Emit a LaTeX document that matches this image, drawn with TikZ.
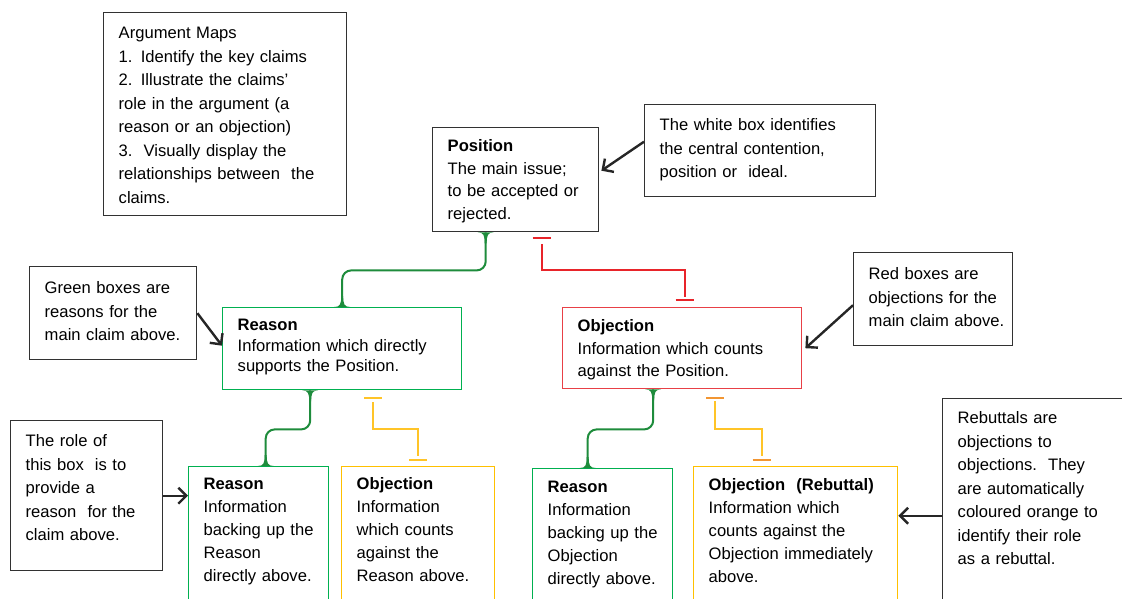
\documentclass[tikz,border=0pt]{standalone}
\usepackage{fontspec}
\setmainfont{Liberation Sans}
\usetikzlibrary{arrows.meta}

\definecolor{notegray}{RGB}{50,50,50}
\definecolor{boxgreen}{RGB}{0,176,80}
\definecolor{linkgreen}{RGB}{30,140,60}
\definecolor{boxred}{RGB}{232,64,70}
\definecolor{linkred}{RGB}{232,36,42}
\definecolor{boxyellow}{RGB}{255,192,0}
\definecolor{linkyellow}{RGB}{255,196,40}
\definecolor{barorange}{RGB}{242,150,50}

\tikzset{flare/.pic={\fill[linkgreen] (-8,0) .. controls (-2,0) and (-1,-3) .. (-1,-11)
                                      -- (1,-11) .. controls (1,-3) and (2,0) .. (8,0) -- cycle;},
         tbar/.pic={\draw[line width=2pt] (-9,0) -- (9,0);}}

\begin{document}
\begin{tikzpicture}[
    x=1pt, y=-1pt,
    font=\fontsize{16.6}{23.5}\selectfont,
    box/.style={rectangle, anchor=north west, align=left, inner xsep=15pt,
      inner ysep=0pt, line width=1.4pt},
    note/.style={box, draw=notegray},
    pro/.style={box, draw=boxgreen},
    con/.style={box, draw=boxred},
    rebut/.style={box, draw=boxyellow},
    glink/.style={linkgreen, line width=2pt, rounded corners=9pt},
    olink/.style={line width=2pt, shorten <=12pt, shorten >=10pt},
    hint/.style={black!85, line width=2.4pt, -{Straight Barb[length=8pt,width=16pt]}}
  ]

  \path[use as bounding box] (0,0) rectangle (1122,598);
  \clip (0,0) rectangle (1122,598);

  % layout the notes

  \node (amap)     [note, text width=213pt, text height=26pt, text depth=177pt] at (103,12)
                                                  {Argument Maps\\
                                                   1. Identify the key claims\\
                                                   2. Illustrate the claims’\\
                                                   role in the argument (a\\
                                                   reason or an objection)\\
                                                   3.\ \ Visually display the\\
                                                   relationships between\ \ the\\
                                                   claims.};
  \node (wnote)    [note, text width=201pt, text height=26pt, text depth=66pt] at (644,104)
                                                  {The white box identifies\\
                                                   the central contention,\\
                                                   position or\ \ ideal.};
  \node (gnote)    [note, text width=137pt, text height=27pt, text depth=66pt] at (29,266)
                                                  {Green boxes are\\
                                                   reasons~for~the\\
                                                   main~claim~above.};
  \node (rnote)    [note, text width=129pt, text height=27pt, text depth=66pt] at (853,252)
                                                  {Red boxes are\\
                                                   objections~for~the\\
                                                   main~claim~above.};
  \node (rolenote) [note, text width=122pt, text height=26pt, text depth=124pt] at (10,420)
                                                  {The role of\\
                                                   this box\ \ is to\\
                                                   provide a\\
                                                   reason\ \ for the\\
                                                   claim above.};
  \node (rebnote)  [note, text width=170pt, text height=25pt, text depth=209pt] at (942,398)
                                                  {Rebuttals are\\
                                                   objections to\\
                                                   objections.\ \ They\\
                                                   are automatically\\
                                                   coloured orange to\\
                                                   identify their role\\
                                                   as a rebuttal.};

  % layout the map itself

  \node (pos)      [note, text width=136pt, text height=24pt, text depth=80pt,
                    font=\fontsize{16.6}{22.5}\selectfont] at (432,127)
                                                  {\textbf{Position}\\
                                                   The main issue;\\
                                                   to~be~accepted~or\\
                                                   rejected.};
  \node (r1)       [pro, text width=209pt, text height=23pt, text depth=59pt,
                    font=\fontsize{16.6}{20.5}\selectfont] at (222,307)
                                                  {\textbf{Reason}\\
                                                   Information which directly\\
                                                   supports the Position.};
  \node (o1)       [con, text width=209pt, text height=24pt, text depth=57pt,
                    font=\fontsize{16.6}{22.5}\selectfont] at (562,307)
                                                  {\textbf{Objection}\\
                                                   Information which counts\\
                                                   against the Position.};
  \node (r2)       [pro, text width=110pt, text height=23pt, text depth=140pt,
                    font=\fontsize{16.6}{23}\selectfont] at (188,466)
                                                  {\textbf{Reason}\\
                                                   Information\\
                                                   backing~up~the\\
                                                   Reason\\
                                                   directly~above.};
  \node (o2)       [rebut, text width=123pt, text height=23pt, text depth=140pt,
                    font=\fontsize{16.6}{23}\selectfont] at (341,466)
                                                  {\textbf{Objection}\\
                                                   Information\\
                                                   which counts\\
                                                   against the\\
                                                   Reason~above.};
  \node (r3)       [pro, text width=110pt, text height=24pt, text depth=140pt,
                    font=\fontsize{16.6}{23}\selectfont] at (532,468)
                                                  {\textbf{Reason}\\
                                                   Information\\
                                                   backing~up~the\\
                                                   Objection\\
                                                   directly~above.};
  \node (o3)       [rebut, text width=174pt, text height=24pt, text depth=140pt,
                    font=\fontsize{16.6}{23}\selectfont] at (693,466)
                                                  {\textbf{Objection\ \ (Rebuttal)}\\
                                                   Information which\\
                                                   counts against the\\
                                                   Objection~immediately\\
                                                   above.};

  % supporting links

  \draw[glink] ([xshift=-30pt]pos.south) -- ++(0,38) -| (r1.north);
  \draw[glink] ([xshift=-32pt]r1.south)  -- ++(0,39) -| ([xshift=7pt]r2.north);
  \draw[glink] ([xshift=-29pt]o1.south)  -- ++(0,40) -| ([xshift=-15pt]r3.north);

  \foreach \a/\s in {pos/-30, r1/-32, o1/-29}
    \path ([xshift=\s pt]\a.south) pic[rotate=180] {flare};
  \foreach \a/\s in {r1/0, r2/7, r3/-15}
    \path ([xshift=\s pt]\a.north) pic {flare};

  % opposing links, with their bars

  \draw[olink, linkred]    ([xshift=26pt]pos.south) -- ++(0,38) -| ([xshift=2.5pt]o1.north);
  \draw[olink, linkyellow] ([xshift=31pt]r1.south)  -- ++(0,39) -| (o2.north);
  \draw[olink, linkyellow] ([xshift=33pt]o1.south)  -- ++(0,40) -| ([xshift=-34pt]o3.north);

  \path ([xshift=26pt,yshift=-6pt]pos.south)  pic[linkred]    {tbar};
  \path ([xshift=2.5pt,yshift=7pt]o1.north)   pic[linkred]    {tbar};
  \path ([xshift=31pt,yshift=-8pt]r1.south)   pic[linkyellow] {tbar};
  \path ([yshift=6pt]o2.north)                pic[linkyellow] {tbar};
  \path ([xshift=33pt,yshift=-9pt]o1.south)   pic[barorange]  {tbar};
  \path ([xshift=-34pt,yshift=6pt]o3.north)   pic[barorange]  {tbar};

  % pointers from the notes

  \draw[hint] ([yshift=9pt]wnote.west)   -- ([xshift=2pt,yshift=9pt]pos.east);
  \draw[hint] (gnote.east)               -- ([yshift=3pt]r1.west);
  \draw[hint] ([yshift=-6pt]rnote.west)  -- ([xshift=3pt]o1.east);
  \draw[hint] (rolenote.east)            -- (rolenote.east -| r2.west);
  \draw[hint] (rebnote.west)             -- (rebnote.west -| o3.east);

\end{tikzpicture}
\end{document}
